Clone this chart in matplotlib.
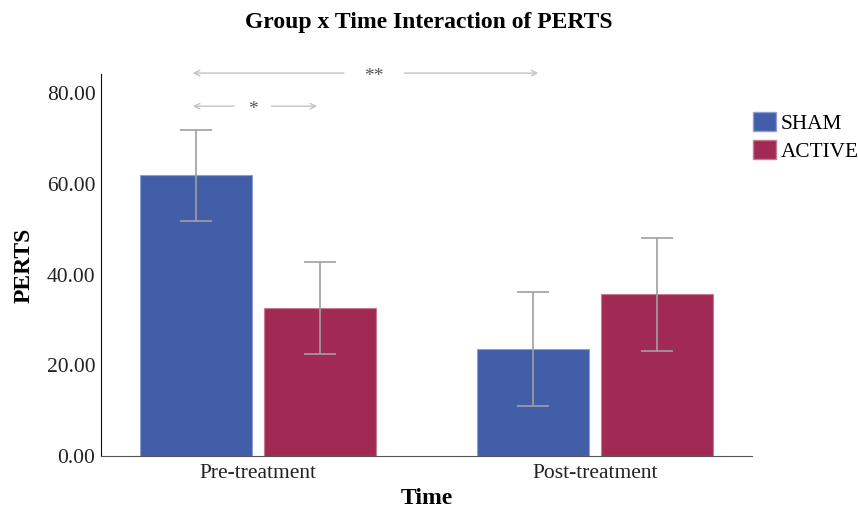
import matplotlib.pyplot as plt
from matplotlib.patches import Patch

plt.rcParams['font.family'] = ['Liberation Serif', 'DejaVu Serif']

time_points = ['Pre-treatment', 'Post-treatment']
groups = ['SHAM', 'ACTIVE']
sham_mean = [61.9, 23.6]
sham_low = [51.8, 11.1]
sham_high = [71.9, 36.1]
active_mean = [32.6, 35.6]
active_low = [22.5, 23.1]
active_high = [42.8, 48.0]

sham_color = '#435ea8'
active_color = '#a12a55'
err_color = '#a0a0a0'
arrow_color = '#c4c4c4'

fig = plt.figure(figsize=(8.58, 5.11), dpi=100)
ax = fig.add_axes([0.1177, 0.1076, 0.7588, 0.7476])

x = [0, 1]
off = 0.184
w = 0.332
sham_x = [i - off for i in x]
active_x = [i + off for i in x]

ax.bar(sham_x, sham_mean, width=w, color=sham_color, edgecolor='#8d9fd0', linewidth=0.8)
ax.bar(active_x, active_mean, width=w, color=active_color, edgecolor='#c97a93', linewidth=0.8)

sham_err = [[m - l for m, l in zip(sham_mean, sham_low)],
            [h - m for m, h in zip(sham_mean, sham_high)]]
active_err = [[m - l for m, l in zip(active_mean, active_low)],
              [h - m for m, h in zip(active_mean, active_high)]]
ax.errorbar(sham_x, sham_mean, yerr=sham_err, fmt='none', ecolor=err_color,
            elinewidth=1.2, capsize=11.5, capthick=1.2)
ax.errorbar(active_x, active_mean, yerr=active_err, fmt='none', ecolor=err_color,
            elinewidth=1.2, capsize=11.5, capthick=1.2)

# significance arrows
def sig_arrow(x0, x1, gap0, gap1, y, label):
    props = dict(arrowstyle='->', color=arrow_color, lw=1.0, mutation_scale=10)
    ax.annotate('', xy=(x0, y), xytext=(gap0, y), arrowprops=props, annotation_clip=False)
    ax.annotate('', xy=(x1, y), xytext=(gap1, y), arrowprops=props, annotation_clip=False)
    ax.annotate(label, xy=((gap0 + gap1) / 2, y), xytext=(0, -2.5), textcoords='offset points',
                ha='center', va='center', fontsize=14, color='#555555',
                annotation_clip=False)

sig_arrow(-0.202, 0.840, 0.263, 0.426, 84.4, '**')
sig_arrow(-0.202, 0.184, -0.063, 0.032, 77.1, '*')

ax.set_xlim(-0.466, 1.466)
ax.set_ylim(0, 84.2)
ax.set_yticks([0, 20, 40, 60, 80])
ax.set_yticklabels(['%.2f' % v for v in [0, 20, 40, 60, 80]])
ax.set_xticks(x)
ax.set_xticklabels(time_points)
ax.tick_params(axis='both', length=0, labelsize=15.5, colors='#222222', pad=4)
ax.tick_params(axis='x', pad=6)

ax.spines['top'].set_visible(False)
ax.spines['right'].set_visible(False)
ax.spines['left'].set_color('#111111')
ax.spines['bottom'].set_color('#555555')

ax.set_ylabel('PERTS', fontsize=17, fontweight='bold', labelpad=9)
ax.set_xlabel('Time', fontsize=17, fontweight='bold', labelpad=3)
fig.suptitle('Group x Time Interaction of PERTS', fontsize=17, fontweight='bold', y=0.976)

handles = [Patch(facecolor=sham_color, edgecolor='#8d9fd0'),
           Patch(facecolor=active_color, edgecolor='#c97a93')]
fig.legend(handles, groups, loc='upper left', bbox_to_anchor=(0.878, 0.780),
           frameon=False, fontsize=15.3, handlelength=1.05, handleheight=0.96,
           handletextpad=0.25, labelspacing=0.3, borderaxespad=0, borderpad=0)

fig.savefig('out.png', dpi=100)
